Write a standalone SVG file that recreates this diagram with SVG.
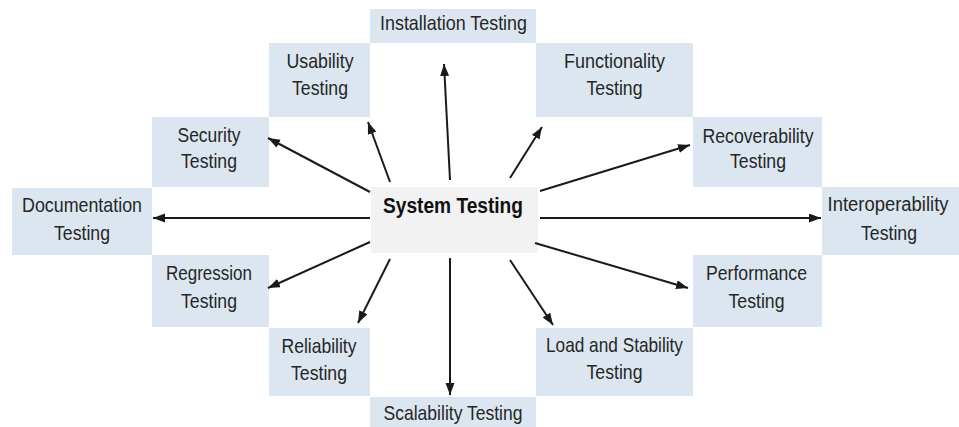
<svg xmlns="http://www.w3.org/2000/svg" width="959" height="427" viewBox="0 0 959 427">
<style>
.box{fill:#dce6f1}
.main{fill:#f2f2f2}
.t{font-family:"Liberation Sans",Arial,sans-serif;font-size:21px;fill:#262626;text-anchor:middle}
.tb{font-family:"Liberation Sans",Arial,sans-serif;font-size:22px;font-weight:bold;fill:#111;text-anchor:middle}
.c{stroke:#1a1a1a;stroke-width:2;fill:none;marker-end:url(#ah)}
</style>
<defs>
<marker id="ah" markerUnits="userSpaceOnUse" markerWidth="13" markerHeight="10" refX="12" refY="4.5" orient="auto">
<path d="M0,0 L12,4.5 L0,9 z" fill="#1a1a1a"/>
</marker>
</defs>
<rect width="959" height="427" fill="#ffffff"/>
<g id="installation"><rect class="box" x="370" y="9" width="166" height="34"/><text class="t" x="453.5" y="30" textLength="147" lengthAdjust="spacingAndGlyphs">Installation Testing</text></g>
<g id="usability"><rect class="box" x="269" y="43" width="101" height="74"/><text class="t" x="320" y="68" textLength="67" lengthAdjust="spacingAndGlyphs">Usability</text><text class="t" x="320" y="95" textLength="56" lengthAdjust="spacingAndGlyphs">Testing</text></g>
<g id="functionality"><rect class="box" x="536" y="43" width="157" height="74"/><text class="t" x="614.5" y="68" textLength="101" lengthAdjust="spacingAndGlyphs">Functionality</text><text class="t" x="614.5" y="95" textLength="56" lengthAdjust="spacingAndGlyphs">Testing</text></g>
<g id="security"><rect class="box" x="152" y="117" width="117" height="70"/><text class="t" x="209" y="142" textLength="63" lengthAdjust="spacingAndGlyphs">Security</text><text class="t" x="209" y="168" textLength="56" lengthAdjust="spacingAndGlyphs">Testing</text></g>
<g id="recoverability"><rect class="box" x="693" y="117" width="129" height="70"/><text class="t" x="758" y="143" textLength="111" lengthAdjust="spacingAndGlyphs">Recoverability</text><text class="t" x="758" y="168" textLength="56" lengthAdjust="spacingAndGlyphs">Testing</text></g>
<g id="documentation"><rect class="box" x="12" y="188" width="140" height="67"/><text class="t" x="82" y="212" textLength="120" lengthAdjust="spacingAndGlyphs">Documentation</text><text class="t" x="82" y="240" textLength="56" lengthAdjust="spacingAndGlyphs">Testing</text></g>
<g id="system"><rect class="main" x="371" y="187" width="167" height="66"/><text class="tb" x="453" y="213" textLength="140" lengthAdjust="spacingAndGlyphs">System Testing</text></g>
<g id="interoperability"><rect class="box" x="822" y="187" width="137" height="68"/><text class="t" x="888" y="211" font-size="20" textLength="121" lengthAdjust="spacingAndGlyphs" style="font-size:20px">Interoperability</text><text class="t" x="889" y="240" textLength="56" lengthAdjust="spacingAndGlyphs">Testing</text></g>
<g id="regression"><rect class="box" x="152" y="255" width="117" height="72"/><text class="t" x="209" y="280" textLength="86" lengthAdjust="spacingAndGlyphs">Regression</text><text class="t" x="209" y="308" textLength="56" lengthAdjust="spacingAndGlyphs">Testing</text></g>
<g id="performance"><rect class="box" x="693" y="255" width="129" height="72"/><text class="t" x="756.5" y="280" textLength="101" lengthAdjust="spacingAndGlyphs">Performance</text><text class="t" x="756.5" y="308" textLength="56" lengthAdjust="spacingAndGlyphs">Testing</text></g>
<g id="reliability"><rect class="box" x="269" y="328" width="101" height="68"/><text class="t" x="319" y="353" textLength="75" lengthAdjust="spacingAndGlyphs">Reliability</text><text class="t" x="319" y="380" textLength="56" lengthAdjust="spacingAndGlyphs">Testing</text></g>
<g id="load"><rect class="box" x="536" y="328" width="157" height="68"/><text class="t" x="614.5" y="352" textLength="137" lengthAdjust="spacingAndGlyphs">Load and Stability</text><text class="t" x="614.5" y="379" textLength="56" lengthAdjust="spacingAndGlyphs">Testing</text></g>
<g id="scalability"><rect class="box" x="370" y="397" width="166" height="30"/><text class="t" x="453" y="420" textLength="139" lengthAdjust="spacingAndGlyphs">Scalability Testing</text></g>
<g id="connectors">
<line class="c" x1="450" y1="180" x2="444" y2="64"/>
<line class="c" x1="390" y1="182" x2="368" y2="122"/>
<line class="c" x1="370" y1="192" x2="268" y2="138"/>
<line class="c" x1="510" y1="178" x2="542" y2="127"/>
<line class="c" x1="540" y1="191" x2="690" y2="145"/>
<line class="c" x1="370" y1="218" x2="153" y2="218"/>
<line class="c" x1="540" y1="218" x2="821" y2="218"/>
<line class="c" x1="535" y1="243" x2="688" y2="288"/>
<line class="c" x1="510" y1="260" x2="553" y2="325"/>
<line class="c" x1="450" y1="258" x2="450" y2="395"/>
<line class="c" x1="390" y1="259" x2="358" y2="323"/>
<line class="c" x1="370" y1="242" x2="268" y2="288"/>
</g>
</svg>
